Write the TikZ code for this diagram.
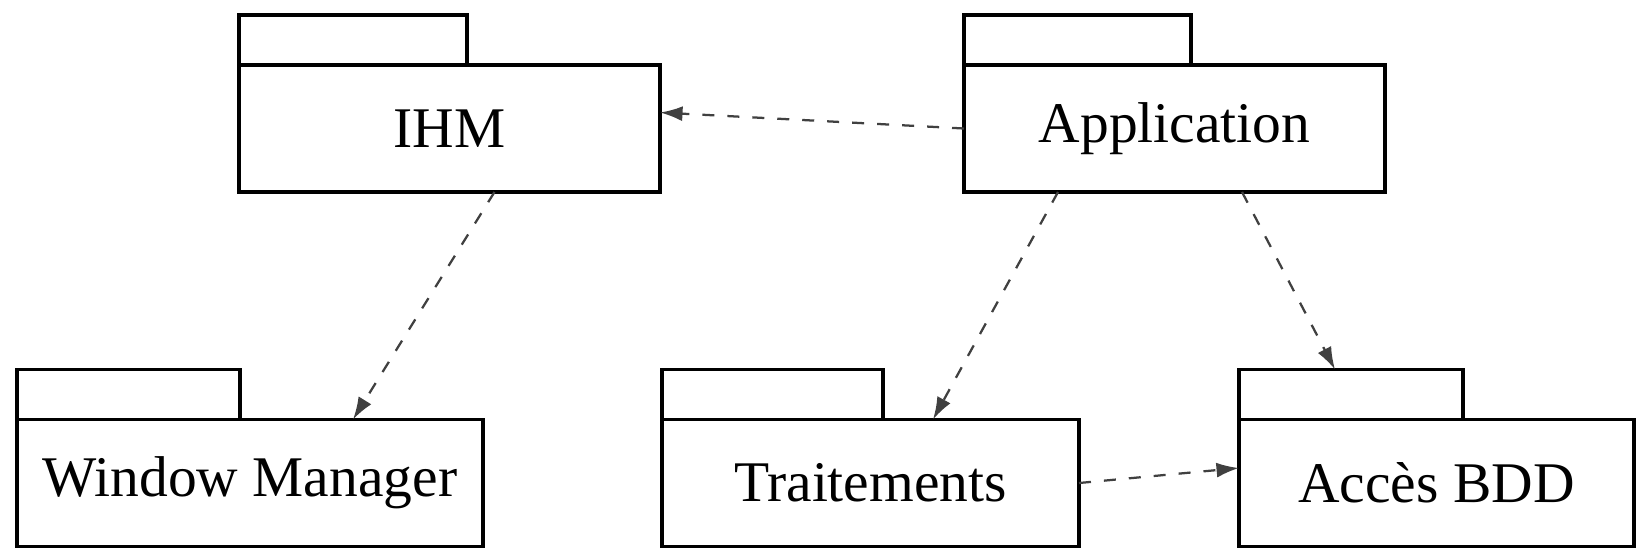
\documentclass[tikz,border=0pt]{standalone}
\usepackage{fontspec}
\setmainfont{Liberation Serif}
\usepackage{tikz}
\usetikzlibrary{arrows.meta, positioning}

\tikzset{
  paquet/.style = {draw, line width=0.7pt, inner sep=0pt, outer sep=0pt, minimum height=25.4pt,
                   font=\fontsize{11.5}{13}\selectfont},
  onglet/.style = {draw, line width=0.7pt, inner sep=0pt, outer sep=0pt, minimum height=10pt, anchor=south west},
  dep/.style    = {black!75, line width=0.45pt, dash pattern=on 2.4pt off 2.6pt,
                   -{Latex[length=4.5pt,width=3pt]}},
}

\begin{document}
\begin{tikzpicture}[x=0.2pt, y=-0.2pt]
                \useasboundingbox (0,0) rectangle (1639,548);

                % les paquets
                \node [paquet, minimum width=84.2pt] (ihm) at (449.5,128.5) {IHM};
                \node [onglet, minimum width=45.6pt] (ihmT) at (ihm.north west) {};

                \node [paquet, minimum width=84.2pt] (app) at (1174.5,128.5) {Application};
                \node [onglet, minimum width=45.4pt] (appT) at (app.north west) {};

                \node [paquet, minimum width=93.2pt] (wm) at (250,483) {Window Manager};
                \node [onglet, minimum width=44.6pt] (wmT) at (wm.north west) {};

                \node [paquet, minimum width=83.4pt] (trt) at (870.5,483) {Traitements};
                \node [onglet, minimum width=44.2pt] (trtT) at (trt.north west) {};

                \node [paquet, minimum width=79pt] (bdd) at (1436.5,483) {Accès BDD};
                \node [onglet, minimum width=44.8pt] (bddT) at (bdd.north west) {};

                % les dependances
                \draw [dep] (app.west) -- ([yshift=3.2pt]ihm.east);
                \draw [dep] ([xshift=9pt]ihm.south) -- ([xshift=20.6pt]wm.north);
                \draw [dep] ([xshift=-23.3pt]app.south) -- ([xshift=12.5pt]trt.north);
                \draw [dep] ([xshift=13.5pt]app.south) -- ([xshift=-3.2pt]bddT.north);
                \draw [dep] (trt.east) -- ([yshift=3pt]bdd.west);
            \end{tikzpicture}
\end{document}
